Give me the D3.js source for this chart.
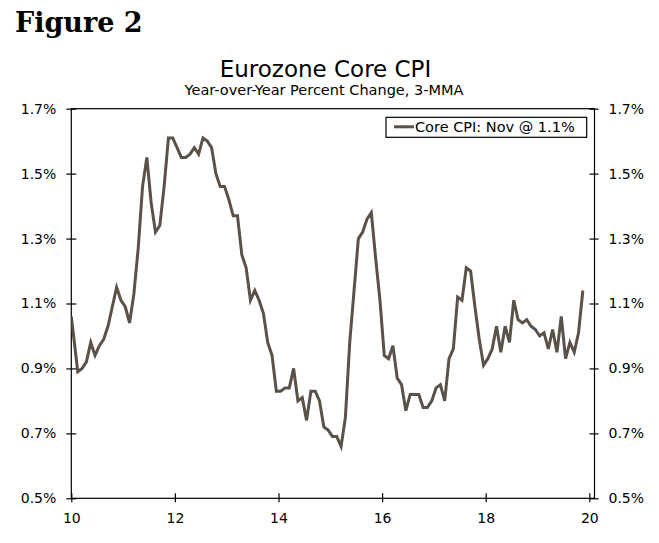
<!DOCTYPE html>
<html>
<head>
<meta charset="utf-8">
<script src="https://cdn.jsdelivr.net/npm/d3@7"></script>
<style>
  body { margin: 0; background: #fff; }
  svg { display: block; }
  text { font-family: "DejaVu Sans", Verdana, sans-serif; fill: #000; }
</style>
</head>
<body>
<svg id="chart" width="659" height="543"></svg>
<script>
// monthly core CPI, yoy % (3-MMA), Jan 2010 .. Nov 2019
const startYear = 10;
const coreCpi = [
  1.06, 0.89, 0.90, 0.92, 0.98, 0.94, 0.97, 0.99, 1.03, 1.09, 1.15, 1.11,
  1.09, 1.04, 1.13, 1.27, 1.46, 1.55, 1.41, 1.32, 1.34, 1.46, 1.61, 1.61,
  1.58, 1.55, 1.55, 1.56, 1.58, 1.56, 1.61, 1.60, 1.58, 1.50, 1.46, 1.46,
  1.42, 1.37, 1.37, 1.25, 1.21, 1.11, 1.14, 1.11, 1.07, 0.98, 0.94, 0.83,
  0.83, 0.84, 0.84, 0.90, 0.80, 0.81, 0.74, 0.83, 0.83, 0.80, 0.72, 0.71,
  0.69, 0.69, 0.66, 0.75, 0.98, 1.14, 1.30, 1.32, 1.36, 1.38, 1.24, 1.11,
  0.94, 0.93, 0.97, 0.87, 0.85, 0.77, 0.82, 0.82, 0.82, 0.78, 0.78, 0.80,
  0.84, 0.85, 0.80, 0.93, 0.96, 1.12, 1.11, 1.21, 1.20, 1.09, 0.99, 0.91,
  0.93, 0.96, 1.03, 0.95, 1.03, 0.98, 1.11, 1.05, 1.04, 1.05, 1.03, 1.02,
  1.00, 1.01, 0.96, 1.02, 0.95, 1.06, 0.93, 0.98, 0.95, 1.01, 1.14
];
const xTicks = [10, 12, 14, 16, 18, 20];
const yTicks = [0.5, 0.7, 0.9, 1.1, 1.3, 1.5, 1.7];
const legendLabel = "Core CPI: Nov @ 1.1%";

// first month drawn from the axis, the rest at mid-month
const data = coreCpi.map((v, i) => ({ t: startYear + (i === 0 ? 0 : (i + 0.5) / 12), v }));

const margin = { top: 108.7, right: 64.5, bottom: 44.7, left: 71.3 };
const W = 659, H = 543;
const width = W - margin.left - margin.right;
const height = H - margin.top - margin.bottom;

const svg = d3.select("#chart");

svg.append("text")
  .attr("x", 15).attr("y", 32)
  .style("font-family", "'DejaVu Serif', serif")
  .style("font-weight", "bold")
  .style("font-size", "27px")
  .text("Figure 2");

svg.append("text")
  .attr("x", 325.5).attr("y", 77)
  .attr("text-anchor", "middle")
  .style("font-size", "23px")
  .text("Eurozone Core CPI");

svg.append("text")
  .attr("x", 324).attr("y", 95)
  .attr("text-anchor", "middle")
  .style("font-size", "14.5px")
  .text("Year-over-Year Percent Change, 3-MMA");

const g = svg.append("g")
  .attr("transform", `translate(${margin.left},${margin.top})`);

const x = d3.scaleLinear().domain([10, 20.1]).range([0, width]);
const y = d3.scaleLinear().domain([0.5, 1.7]).range([height, 0]);

// frame
g.append("rect")
  .attr("width", width).attr("height", height)
  .attr("fill", "none").attr("stroke", "#000").attr("stroke-width", 1.2);

const fmtPct = d => d3.format(".1f")(d) + "%";

const yl = g.append("g")
  .call(d3.axisLeft(y).tickValues(yTicks).tickFormat(fmtPct).tickSize(5).tickPadding(10));
yl.selectAll(".tick line").attr("x2", 5).attr("x1", -5);

const yr = g.append("g")
  .attr("transform", `translate(${width},0)`)
  .call(d3.axisRight(y).tickValues(yTicks).tickFormat(fmtPct).tickSize(5).tickPadding(9));
yr.selectAll(".tick line").attr("x1", -5).attr("x2", 4);

const xa = g.append("g")
  .attr("transform", `translate(0,${height})`)
  .call(d3.axisBottom(x).tickValues(xTicks).tickFormat(d3.format("d")).tickSize(4).tickPadding(11));
xa.selectAll(".tick line").attr("y1", -5).attr("y2", 4);

[yl, yr, xa].forEach(a => {
  a.select(".domain").remove();
  a.selectAll(".tick line").attr("stroke", "#000").attr("stroke-width", 1.2);
  a.selectAll(".tick text")
    .style("font-family", "'DejaVu Sans', Verdana, sans-serif")
    .style("font-size", "14px")
    .attr("fill", "#000");
});

g.append("clipPath").attr("id", "plotclip")
  .append("rect").attr("width", width).attr("height", height);

const line = d3.line()
  .x(d => x(d.t))
  .y(d => y(d.v));

g.append("path")
  .datum(data)
  .attr("clip-path", "url(#plotclip)")
  .attr("fill", "none")
  .attr("stroke", "#5a5149")
  .attr("stroke-width", 3)
  .attr("stroke-linejoin", "miter")
  .attr("d", line);

// legend
const lg = svg.append("g").attr("transform", "translate(386,117.3)");
lg.append("rect")
  .attr("width", 200.7).attr("height", 20)
  .attr("fill", "#fff").attr("stroke", "#000").attr("stroke-width", 1.2);
lg.append("line")
  .attr("x1", 8).attr("x2", 28).attr("y1", 9.5).attr("y2", 9.5)
  .attr("stroke", "#5a5149").attr("stroke-width", 3);
lg.append("text")
  .attr("x", 29).attr("y", 14.5)
  .style("font-size", "14.5px")
  .text(legendLabel);
</script>
</body>
</html>
